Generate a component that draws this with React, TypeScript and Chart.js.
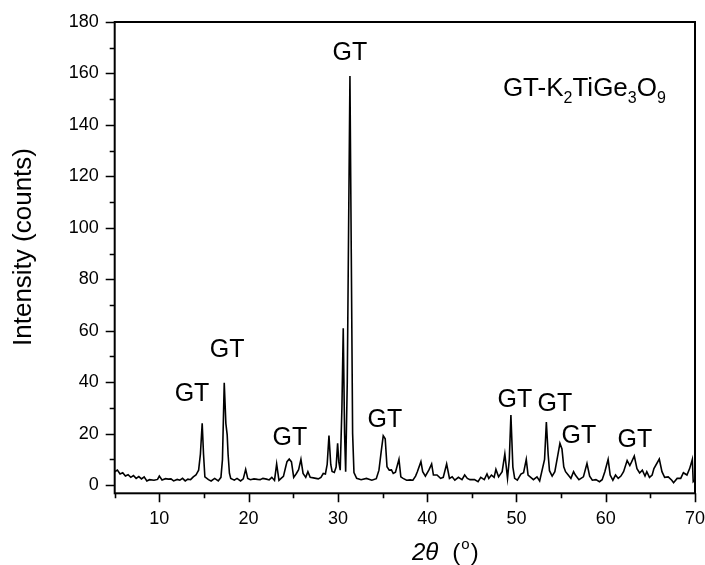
import React, { useEffect, useRef } from 'react';
import { Chart, registerables } from 'chart.js';

Chart.register(...registerables);

// 2θ (degrees) and intensity (counts)
const twoTheta = [
  5.0, 5.3, 5.6, 5.9, 6.2, 6.5, 6.8, 7.1, 7.4, 7.7, 8.0, 8.3, 8.6, 8.9, 9.4, 9.8,
  10.0, 10.3, 10.7, 11.0, 11.3, 11.6, 12.0, 12.3, 12.6, 12.9, 13.2, 13.5, 13.8, 14.1, 14.4, 14.6,
  14.8, 14.95, 15.1, 15.5, 15.8, 16.2, 16.6, 16.9, 17.07, 17.27, 17.45, 17.6, 17.7, 17.85, 18.0, 18.4,
  18.7, 19.1, 19.4, 19.67, 19.9, 20.2, 20.6, 21.0, 21.3, 21.6, 22.0, 22.3, 22.6, 22.9, 23.14, 23.4,
  23.7, 23.9, 24.15, 24.3, 24.55, 24.8, 25.05, 25.35, 25.6, 25.86, 26.1, 26.4, 26.64, 26.9, 27.4, 27.8,
  28.1, 28.36, 28.6, 28.8, 29.0, 29.2, 29.35, 29.6, 29.8, 29.97, 30.1, 30.26, 30.45, 30.6, 30.75, 30.87,
  31.05, 31.2, 31.35, 31.5, 31.65, 31.8, 32.1, 32.6, 33.2, 33.8, 34.3, 34.6, 34.85, 35.08, 35.3, 35.5,
  35.75, 36.0, 36.2, 36.45, 36.84, 37.05, 37.3, 37.7, 38.1, 38.4, 38.7, 38.9, 39.3, 39.5, 39.8, 40.2,
  40.5, 40.7, 41.1, 41.5, 41.8, 42.18, 42.5, 42.8, 43.1, 43.5, 43.9, 44.2, 44.5, 44.8, 45.3, 45.7,
  46.0, 46.4, 46.7, 46.9, 47.2, 47.5, 47.7, 48.0, 48.4, 48.7, 49.0, 49.2, 49.38, 49.6, 49.8, 50.1,
  50.5, 50.8, 51.1, 51.3, 51.6, 51.9, 52.3, 52.6, 53.15, 53.35, 53.55, 53.7, 54.0, 54.3, 54.6, 54.87,
  55.1, 55.3, 55.5, 55.8, 56.1, 56.4, 56.6, 57.0, 57.5, 57.9, 58.2, 58.5, 58.9, 59.3, 59.6, 59.9,
  60.27, 60.5, 60.8, 61.1, 61.4, 61.7, 62.0, 62.4, 62.7, 62.9, 63.2, 63.5, 63.8, 64.1, 64.4, 64.6,
  64.9, 65.2, 65.4, 66.0, 66.3, 66.6, 67.0, 67.4, 67.6, 68.0, 68.4, 68.7, 69.1, 69.4, 69.7, 69.8,
  70.0,
];

const intensity = [
  5.2, 5.8, 4.3, 4.8, 3.5, 4.0, 3.0, 3.7, 2.6, 3.3, 2.4, 3.2, 1.6, 2.1, 1.9, 2.2,
  3.5, 2.0, 2.5, 2.3, 2.4, 1.6, 2.2, 1.9, 2.6, 1.6, 2.3, 2.1, 3.2, 3.9, 5.8, 12,
  24, 12, 3.2, 2.1, 1.6, 2.6, 1.6, 3.0, 9.9, 39.8, 24, 19.5, 12, 4.6, 2.6, 1.9,
  2.6, 1.6, 2.4, 6.1, 2.6, 2.1, 2.4, 2.2, 2.1, 2.6, 2.3, 2.0, 3.0, 1.8, 8.2, 1.8,
  2.8, 3.4, 7, 9.1, 10.1, 9, 3.0, 4.5, 6, 10, 4.5, 3.0, 5.2, 3.0, 2.7, 2.4,
  3.0, 4.5, 4.3, 8, 19.2, 8, 5.3, 4.9, 7, 16.2, 9, 5.8, 30, 61, 20, 5.2,
  40, 100, 159, 90, 20, 4.9, 2.6, 2.1, 2.6, 1.9, 2.5, 5.8, 13, 19.2, 18, 7.1,
  5.8, 5.9, 4.5, 5.0, 10.0, 3.2, 2.6, 1.9, 2.0, 1.9, 3.5, 5.2, 9.1, 5.2, 3.5, 5.9,
  8.2, 3.9, 3.9, 2.6, 3.0, 8.2, 2.6, 3.2, 1.9, 3.0, 2.1, 3.9, 2.6, 2.1, 2.1, 1.3,
  3.0, 2.1, 4.3, 2.6, 3.9, 3.0, 6.1, 3.2, 5.2, 12.1, 2.6, 10, 27.2, 7, 2.6, 1.9,
  4.3, 4.8, 10, 3.9, 3.0, 2.1, 3.2, 1.6, 10, 24.5, 12, 5.6, 3.5, 5.2, 11, 16.2,
  14, 7.1, 5.2, 3.9, 2.6, 5.2, 3.9, 2.1, 3.2, 8.4, 3.5, 1.9, 2.1, 1.3, 2.1, 5.2,
  10, 3.9, 1.9, 3.9, 2.6, 3.5, 5.2, 9.5, 7.6, 9, 11.3, 6.4, 4.7, 5.8, 3.5, 5.2,
  3.0, 3.9, 6.4, 10.1, 5.2, 3.0, 3.2, 1.9, 0.9, 2.6, 2.6, 4.8, 3.9, 6.4, 10, 1.3,
  2.0,
];

const xMajorTicks = [10, 20, 30, 40, 50, 60, 70];
const xMinorTicks = [5, 15, 25, 35, 45, 55, 65];
const yMajorTicks = [0, 20, 40, 60, 80, 100, 120, 140, 160, 180];
const yMinorTicks = [10, 30, 50, 70, 90, 110, 130, 150, 170];

// "GT" peak annotations (label centre in data coordinates)
const peakLabelX = [13.66, 17.6, 24.63, 31.35, 35.27, 49.83, 54.3, 56.99, 63.26];
const peakLabelY = [35.4, 52.5, 18.3, 168, 25.3, 33.0, 31.5, 19.1, 17.5];
const peakLabelText = 'GT';

// Sample label: GT-K2TiGe3O9 (parts: [text, isSubscript])
const sampleLabelParts: [string, boolean][] = [
  ['GT-K', false], ['2', true], ['TiGe', false], ['3', true], ['O', false], ['9', true],
];
const sampleLabelX = 48.48;
const sampleLabelY = 151.2;

const yTitle = 'Intensity (counts)';
const FONT = '"Liberation Sans", Arial, Helvetica, sans-serif';

export default function App() {
  const ref = useRef<HTMLCanvasElement | null>(null);

  useEffect(() => {
    if (!ref.current) return;
    const points = twoTheta.map((x, i) => ({ x, y: intensity[i] }));

    const decorations = {
      id: 'decorations',
      afterDraw(chart: any) {
        const { ctx, chartArea: a, scales } = chart;
        const xs = scales.x;
        const ys = scales.y;
        ctx.save();
        ctx.strokeStyle = '#000';
        ctx.fillStyle = '#000';
        // frame
        ctx.lineWidth = 2;
        ctx.strokeRect(a.left, a.top, a.right - a.left, a.bottom - a.top);
        // ticks
        ctx.lineWidth = 1.6;
        ctx.beginPath();
        xMajorTicks.forEach((v) => {
          const p = Math.round(xs.getPixelForValue(v)) + 0.5;
          ctx.moveTo(p, a.bottom);
          ctx.lineTo(p, a.bottom + 9);
        });
        xMinorTicks.forEach((v) => {
          const p = Math.round(xs.getPixelForValue(v)) + 0.5;
          ctx.moveTo(p, a.bottom);
          ctx.lineTo(p, a.bottom + 5);
        });
        yMajorTicks.forEach((v) => {
          const p = Math.round(ys.getPixelForValue(v)) + 0.5;
          ctx.moveTo(a.left, p);
          ctx.lineTo(a.left - 9, p);
        });
        yMinorTicks.forEach((v) => {
          const p = Math.round(ys.getPixelForValue(v)) + 0.5;
          ctx.moveTo(a.left, p);
          ctx.lineTo(a.left - 5, p);
        });
        ctx.stroke();

        // GT labels
        ctx.font = `25px ${FONT}`;
        ctx.textAlign = 'center';
        ctx.textBaseline = 'middle';
        peakLabelX.forEach((x, i) => {
          ctx.fillText(peakLabelText, xs.getPixelForValue(x), ys.getPixelForValue(peakLabelY[i]));
        });

        // sample label
        ctx.textAlign = 'left';
        ctx.textBaseline = 'alphabetic';
        let px = xs.getPixelForValue(sampleLabelX);
        const py = ys.getPixelForValue(sampleLabelY);
        sampleLabelParts.forEach(([t, sub]) => {
          ctx.font = sub ? `16px ${FONT}` : `26px ${FONT}`;
          ctx.fillText(t, px, sub ? py + 7 : py);
          px += ctx.measureText(t).width;
        });

        // y title
        ctx.save();
        ctx.translate(24, 247);
        ctx.rotate(-Math.PI / 2);
        ctx.font = `26px ${FONT}`;
        ctx.textAlign = 'center';
        ctx.textBaseline = 'middle';
        ctx.fillText(yTitle, 0, 0);
        ctx.restore();

        // x title: 2θ  (°)
        let tx = 412;
        const base = 560;
        ctx.textAlign = 'left';
        ctx.textBaseline = 'alphabetic';
        ctx.font = `italic 24px ${FONT}`;
        ctx.fillText('2\u03B8', tx, base);
        tx += ctx.measureText('2\u03B8').width + 14;
        ctx.font = `24px ${FONT}`;
        ctx.fillText('(', tx, base);
        tx += ctx.measureText('(').width + 1;
        ctx.font = `15px ${FONT}`;
        ctx.fillText('o', tx, base - 11);
        tx += ctx.measureText('o').width + 1;
        ctx.font = `24px ${FONT}`;
        ctx.fillText(')', tx, base);

        ctx.restore();
      },
    };

    const chart = new Chart(ref.current, {
      type: 'line',
      data: {
        datasets: [
          {
            data: points,
            borderColor: '#000',
            borderWidth: 1.6,
            pointRadius: 0,
            tension: 0,
            fill: false,
          },
        ],
      },
      options: {
        responsive: false,
        animation: false,
        events: [],
        layout: { padding: { top: 22, right: 10, left: 0, bottom: 0 } },
        plugins: { legend: { display: false }, tooltip: { enabled: false } },
        scales: {
          x: {
            type: 'linear',
            min: 5,
            max: 70,
            grid: { display: false, drawTicks: false },
            border: { display: false },
            afterBuildTicks: (s: any) => {
              s.ticks = xMajorTicks.map((v) => ({ value: v }));
            },
            afterFit: (s: any) => {
              s.height = 71.7;
              s.paddingLeft = 0;
              s.paddingRight = 0;
            },
            ticks: {
              color: '#000',
              padding: 15,
              maxRotation: 0,
              autoSkip: false,
              font: { family: FONT, size: 18 },
            },
          },
          y: {
            type: 'linear',
            min: -3.2,
            max: 180,
            grid: { display: false, drawTicks: false },
            border: { display: false },
            afterBuildTicks: (s: any) => {
              s.ticks = yMajorTicks.map((v) => ({ value: v }));
            },
            afterFit: (s: any) => {
              s.width = 114.7;
              s.paddingTop = 0;
              s.paddingBottom = 0;
            },
            ticks: {
              color: '#000',
              padding: 16,
              autoSkip: false,
              font: { family: FONT, size: 18 },
            },
          },
        },
      },
      plugins: [decorations],
    });
    return () => chart.destroy();
  }, []);

  return (
    <div style={{ position: 'fixed', left: 0, top: 0, width: 705, height: 565, background: '#fff' }}>
      <canvas ref={ref} width={705} height={565} style={{ width: 705, height: 565 }} />
    </div>
  );
}
